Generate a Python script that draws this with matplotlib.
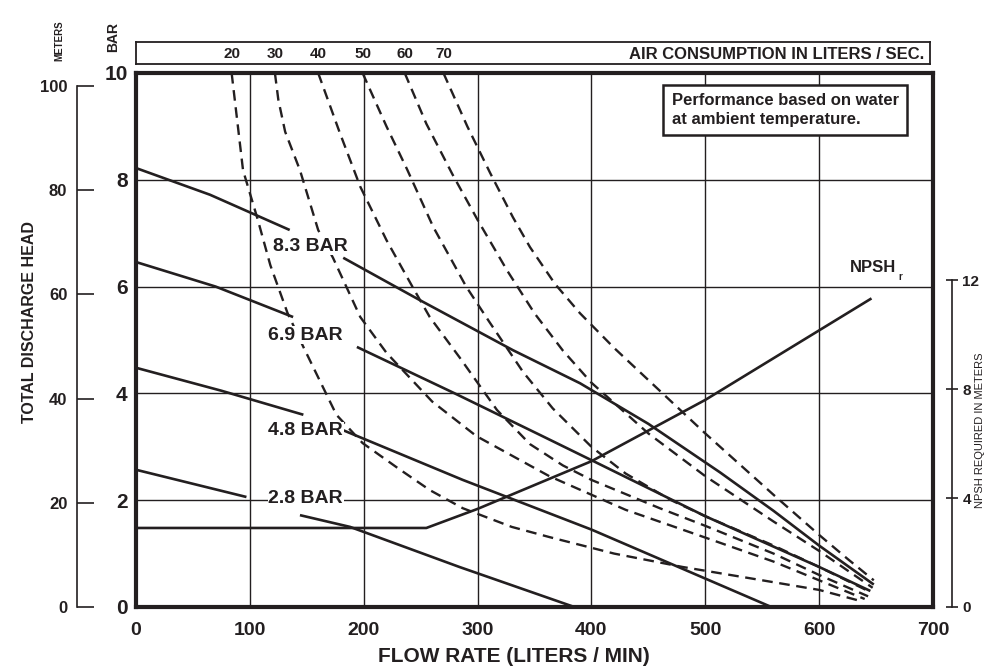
import matplotlib
matplotlib.use("Agg")
import matplotlib.pyplot as plt

plt.rcParams['font.family'] = ['Liberation Sans Narrow', 'Liberation Sans', 'DejaVu Sans']

INK = '#231f20'

# --- data --------------------------------------------------------------
flow_ticks = [0, 100, 200, 300, 400, 500, 600, 700]
bar_ticks = [0, 2, 4, 6, 8, 10]
meter_ticks = [0, 20, 40, 60, 80, 100]
npsh_ticks = [0, 4, 8, 12]

# solid pressure curves (two pieces each, broken by the label)
p83_flow_a = [0, 65, 135]
p83_bar_a = [8.22, 7.72, 7.06]
p83_flow_b = [182, 249, 331, 390, 450, 513, 560, 600, 648]
p83_bar_b = [6.54, 5.75, 4.81, 4.19, 3.43, 2.52, 1.80, 1.15, 0.42]

p69_flow_a = [0, 70, 138]
p69_bar_a = [6.46, 6.00, 5.43]
p69_flow_b = [194, 280, 355, 400, 500, 600, 645]
p69_bar_b = [4.87, 4.00, 3.22, 2.75, 1.70, 0.75, 0.30]

p48_flow_a = [0, 75, 147]
p48_bar_a = [4.48, 4.05, 3.60]
p48_flow_b = [182, 287, 400, 558]
p48_bar_b = [3.31, 2.38, 1.45, 0.0]

p28_flow_a = [0, 97]
p28_bar_a = [2.57, 2.06]
p28_flow_b = [144, 188, 284, 385]
p28_bar_b = [1.72, 1.50, 0.75, 0.0]

pressure_labels = ['8.3 BAR', '6.9 BAR', '4.8 BAR', '2.8 BAR']

# dashed air consumption curves (liters / sec)
air_labels = [20, 30, 40, 50, 60, 70]
air20_flow = [84, 94, 107, 118, 133, 147, 176, 199, 230, 258, 287, 330, 363, 420, 480, 550, 600, 635]
air20_bar = [10, 8.18, 7.25, 6.40, 5.51, 4.87, 3.60, 3.07, 2.60, 2.19, 1.85, 1.50, 1.31, 1.00, 0.75, 0.50, 0.32, 0.12]
air30_flow = [122, 125, 131, 144, 160, 173, 197, 220, 260, 299, 363, 430, 500, 560, 600, 640]
air30_bar = [10, 9.5, 8.9, 8.18, 7.06, 6.54, 5.43, 4.76, 3.85, 3.20, 2.45, 1.82, 1.30, 0.85, 0.50, 0.15]
air40_flow = [160, 179, 197, 220, 243, 258, 284, 317, 346, 375, 400, 460, 500, 560, 600, 643]
air40_bar = [10, 8.88, 7.87, 6.87, 5.99, 5.43, 4.68, 3.69, 3.05, 2.65, 2.38, 1.85, 1.52, 1.00, 0.60, 0.20]
air50_flow = [199, 220, 238, 261, 290, 310, 340, 366, 400, 430, 470, 500, 560, 600, 645]
air50_bar = [10, 9.0, 8.2, 7.12, 6.0, 5.35, 4.40, 3.72, 3.00, 2.50, 2.00, 1.70, 1.15, 0.75, 0.28]
air60_flow = [236, 255, 278, 300, 326, 350, 375, 400, 450, 500, 560, 600, 647]
air60_bar = [10, 9.05, 8.10, 7.25, 6.30, 5.50, 4.80, 4.20, 3.25, 2.45, 1.60, 1.05, 0.36]
air70_flow = [270, 291, 311, 331, 346, 368, 390, 420, 450, 500, 560, 600, 625, 648]
air70_bar = [10, 9.0, 8.13, 7.30, 6.74, 6.05, 5.50, 4.85, 4.25, 3.25, 2.10, 1.35, 0.90, 0.50]

# NPSH required (meters, right scale)
npsh_flow = [0, 255, 300, 400, 500, 645]
npsh_m = [2.9, 2.9, 3.6, 5.35, 7.6, 11.3]

# --- layout helpers (pixels of the 986x669 picture) ----------------------
W, H = 986, 669
def fx(px):
    return px / W
def fy(py):
    return 1 - py / H

fig = plt.figure(figsize=(9.86, 6.69), dpi=100)
ax = fig.add_axes([fx(136), fy(607), fx(933) - fx(136), fy(73) - fy(607)])
ax.set_xlim(0, 700)
ax.set_ylim(0, 10)
ax.set_xticks(flow_ticks)
ax.set_yticks(bar_ticks)
ax.grid(True, color=INK, lw=1.0)
ax.set_axisbelow(True)
for s in ax.spines.values():
    s.set_linewidth(3)
    s.set_color(INK)
ax.tick_params(axis='both', length=0, colors=INK)
ax.tick_params(axis='x', pad=11, labelsize=14)
ax.tick_params(axis='y', pad=6, labelsize=15)
for lab in ax.get_xticklabels() + ax.get_yticklabels():
    lab.set_fontweight('bold')

# solid pressure lines
solid = dict(color=INK, lw=1.9, solid_capstyle='butt')
for fa, ba, fb, bb in [(p83_flow_a, p83_bar_a, p83_flow_b, p83_bar_b),
                       (p69_flow_a, p69_bar_a, p69_flow_b, p69_bar_b),
                       (p48_flow_a, p48_bar_a, p48_flow_b, p48_bar_b),
                       (p28_flow_a, p28_bar_a, p28_flow_b, p28_bar_b)]:
    ax.plot(fa, ba, **solid)
    ax.plot(fb, bb, **solid)

# dashed air consumption lines
air_curves = [(air20_flow, air20_bar), (air30_flow, air30_bar), (air40_flow, air40_bar),
              (air50_flow, air50_bar), (air60_flow, air60_bar), (air70_flow, air70_bar)]
for fl, br in air_curves:
    ax.plot(fl, br, color=INK, lw=1.7, linestyle=(0, (4.5, 2.8)))

# pressure labels
label_pos = [(153, 6.76), (149, 5.09), (149, 3.30), (149, 2.04)]
for txt, (x, y) in zip(pressure_labels, label_pos):
    ax.text(x, y, txt, ha='center', va='center', fontsize=14, fontweight='bold', color=INK,
            zorder=6, bbox=dict(fc='white', ec='none', pad=0.5))

# note box
ax.text(0.672, 0.962, 'Performance based on water\nat ambient temperature.',
        transform=ax.transAxes, ha='left', va='top', fontsize=12, fontweight='bold',
        color=INK, linespacing=1.3, zorder=7,
        bbox=dict(boxstyle='square,pad=0.5', fc='white', ec=INK, lw=1.8))

# NPSH on its own scale
ax_n = ax.twinx()
ax_n.set_ylim(0, 12 * 534 / 327)
ax_n.plot(npsh_flow, npsh_m, color=INK, lw=1.9)
for k in ['top', 'bottom', 'left']:
    ax_n.spines[k].set_visible(False)
ax_n.spines['right'].set_position(('outward', 13.7))
ax_n.spines['right'].set_bounds(0, 12)
ax_n.spines['right'].set_linewidth(1.2)
ax_n.spines['right'].set_color(INK)
ax_n.set_yticks(npsh_ticks)
ax_n.tick_params(axis='y', direction='inout', length=9, width=1.2, pad=3,
                 labelsize=11, colors=INK)
for lab in ax_n.get_yticklabels():
    lab.set_fontweight('bold')
ax.text(668, 6.35, 'NPSH', ha='right', va='center', fontsize=12, fontweight='bold', color=INK)
ax.text(670, 6.18, 'r', ha='left', va='center', fontsize=7, fontweight='bold', color=INK)

# meters scale on the left
ax_m = ax.twinx()
ax_m.set_ylim(0, 100 * 534 / 521)
ax_m.yaxis.set_ticks_position('left')
for k in ['top', 'bottom', 'right']:
    ax_m.spines[k].set_visible(False)
ax_m.spines['left'].set_position(('outward', 42.5))
ax_m.spines['left'].set_bounds(0, 100)
ax_m.spines['left'].set_linewidth(1.2)
ax_m.spines['left'].set_color(INK)
ax_m.set_yticks(meter_ticks)
ax_m.tick_params(axis='y', direction='in', length=12, width=1.2, pad=7,
                 labelsize=12, colors=INK)
for lab in ax_m.get_yticklabels():
    lab.set_fontweight('bold')

# air consumption strip on top
ax_t = fig.add_axes([fx(136), fy(64), fx(930) - fx(136), fy(42) - fy(64)])
ax_t.set_xlim(0, 700 * 794 / 797)
ax_t.set_ylim(0, 1)
ax_t.set_xticks([])
ax_t.set_yticks([])
for s in ax_t.spines.values():
    s.set_linewidth(1.3)
    s.set_color(INK)
for lbl, (fl, br) in zip(air_labels, air_curves):
    ax_t.text(fl[0], 0.45, str(lbl), ha='center', va='center', fontsize=11,
              fontweight='bold', color=INK)
ax_t.text(0.993, 0.45, 'AIR CONSUMPTION IN LITERS / SEC.', transform=ax_t.transAxes,
          ha='right', va='center', fontsize=12, fontweight='bold', color=INK)

# axis titles
fig.text(fx(514), fy(657), 'FLOW RATE (LITERS / MIN)', ha='center', va='center',
         fontsize=15, fontweight='bold', color=INK)
fig.text(fx(30), fy(322), 'TOTAL DISCHARGE HEAD', ha='center', va='center',
         rotation=90, fontsize=11.5, fontweight='bold', color=INK)
fig.text(fx(59), fy(41), 'METERS', ha='center', va='center', rotation=90,
         fontsize=7, fontweight='bold', color=INK)
fig.text(fx(113), fy(37), 'BAR', ha='center', va='center', rotation=90,
         fontsize=10, fontweight='bold', color=INK)
fig.text(fx(980), fy(430), 'NPSH REQUIRED IN METERS', ha='center', va='center',
         rotation=90, fontsize=8, color=INK)

fig.savefig('out.png', dpi=100)
